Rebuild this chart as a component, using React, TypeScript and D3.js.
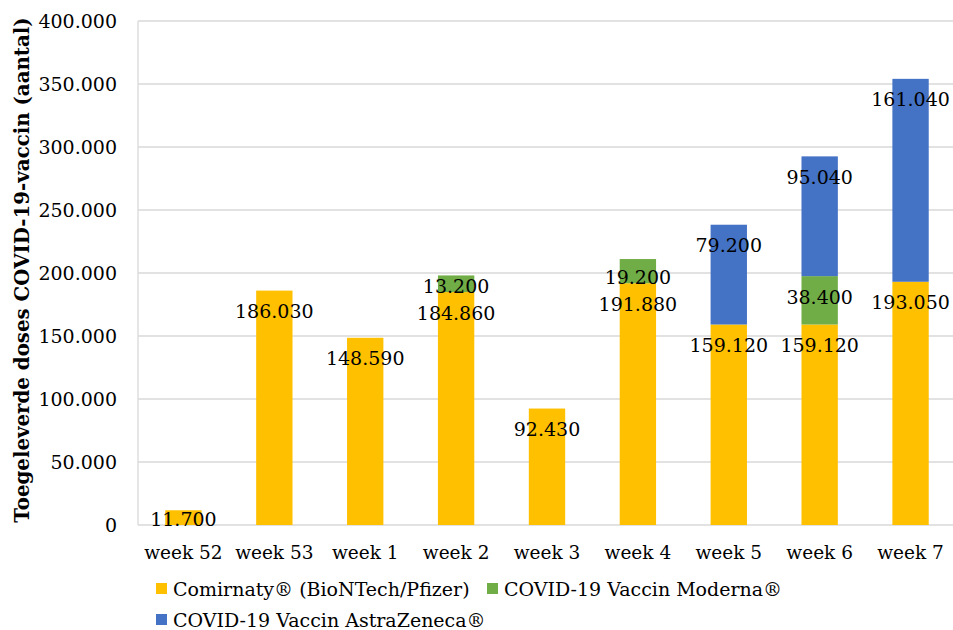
import React from "react";
import * as d3 from "d3";

const categories = ["week 52", "week 53", "week 1", "week 2", "week 3", "week 4", "week 5", "week 6", "week 7"];
const pfizer = [11700, 186030, 148590, 184860, 92430, 191880, 159120, 159120, 193050];
const moderna = [0, 0, 0, 13200, 0, 19200, 0, 38400, 0];
const astra = [0, 0, 0, 0, 0, 0, 79200, 95040, 161040];
const seriesNames = ["Comirnaty® (BioNTech/Pfizer)", "COVID-19 Vaccin Moderna®", "COVID-19 Vaccin AstraZeneca®"];
const seriesColors = ["#FFC000", "#70AD47", "#4472C4"];
const yTicks = [0, 50000, 100000, 150000, 200000, 250000, 300000, 350000, 400000];
const yTitle = "Toegeleverde doses COVID-19-vaccin (aantal)";

const W = 953;
const H = 630;
const FONT = "'DejaVu Serif', Georgia, serif";

const fmt = (v: number) => d3.format(",")(v).replace(/,/g, ".");

export default function App() {
  const left = 138;
  const right = 956;
  const top = 21;
  const bottom = 525;

  const x = d3.scaleBand<string>().domain(categories).range([left, right]).paddingInner(0.6).paddingOuter(0.3);
  const y = d3.scaleLinear().domain([0, 400000]).range([bottom, top]);

  const rows = categories.map((c, i) => ({ cat: c, v0: pfizer[i], v1: moderna[i], v2: astra[i] }));
  const stack = d3.stack<any>().keys(["v0", "v1", "v2"])(rows);

  const labels: { x: number; y: number; t: string }[] = [];
  const rects: any[] = [];
  stack.forEach((layer, si) => {
    layer.forEach((seg, ci) => {
      const val = seg[1] - seg[0];
      if (val <= 0) return;
      const x0 = x(categories[ci])!;
      const yTop = y(seg[1]);
      const yBot = y(seg[0]);
      rects.push(
        <rect key={`r${si}-${ci}`} x={x0} y={yTop} width={x.bandwidth()} height={yBot - yTop} fill={seriesColors[si]} />
      );
      const cy = Math.min(yTop + 21, yBot - 6);
      labels.push({ x: x0 + x.bandwidth() / 2, y: cy, t: fmt(val) });
    });
  });

  const legendItems = [
    { x: 156, y: 589, i: 0 },
    { x: 487, y: 589, i: 1 },
    { x: 156, y: 620, i: 2 },
  ];

  return (
    <svg width={W} height={H} style={{ position: "absolute", left: 0, top: 0, background: "#fff" }} fontFamily={FONT}>
      <rect x={0} y={0} width={W} height={H} fill="#fff" />
      {yTicks.map((t) => (
        <line key={t} x1={left} x2={right} y1={y(t)} y2={y(t)} stroke="#D9D9D9" strokeWidth={1.3} />
      ))}
      <line x1={left} x2={left} y1={top} y2={bottom} stroke="#D9D9D9" strokeWidth={1.3} />
      {rects}
      {yTicks.map((t) => (
        <text key={`t${t}`} x={117} y={y(t)} dy="0.35em" textAnchor="end" fontSize={19} fill="#000">
          {fmt(t)}
        </text>
      ))}
      {categories.map((c) => (
        <text key={c} x={x(c)! + x.bandwidth() / 2} y={559} textAnchor="middle" fontSize={18.5} fill="#000">
          {c}
        </text>
      ))}
      {labels.map((l, i) => (
        <text key={`l${i}`} x={l.x} y={l.y} dy="0.35em" textAnchor="middle" fontSize={19} fill="#000">
          {l.t}
        </text>
      ))}
      <text
        transform={`translate(29, 270) rotate(-90)`}
        textAnchor="middle"
        fontSize={19.8}
        fontWeight="bold"
        fill="#000"
      >
        {yTitle}
      </text>
      {legendItems.map((li) => (
        <g key={li.i}>
          <rect x={li.x} y={li.y - 6} width={11} height={11} fill={seriesColors[li.i]} />
          <text x={li.x + 17} y={li.y} dy="0.35em" fontSize={19} fill="#000">
            {seriesNames[li.i]}
          </text>
        </g>
      ))}
    </svg>
  );
}
